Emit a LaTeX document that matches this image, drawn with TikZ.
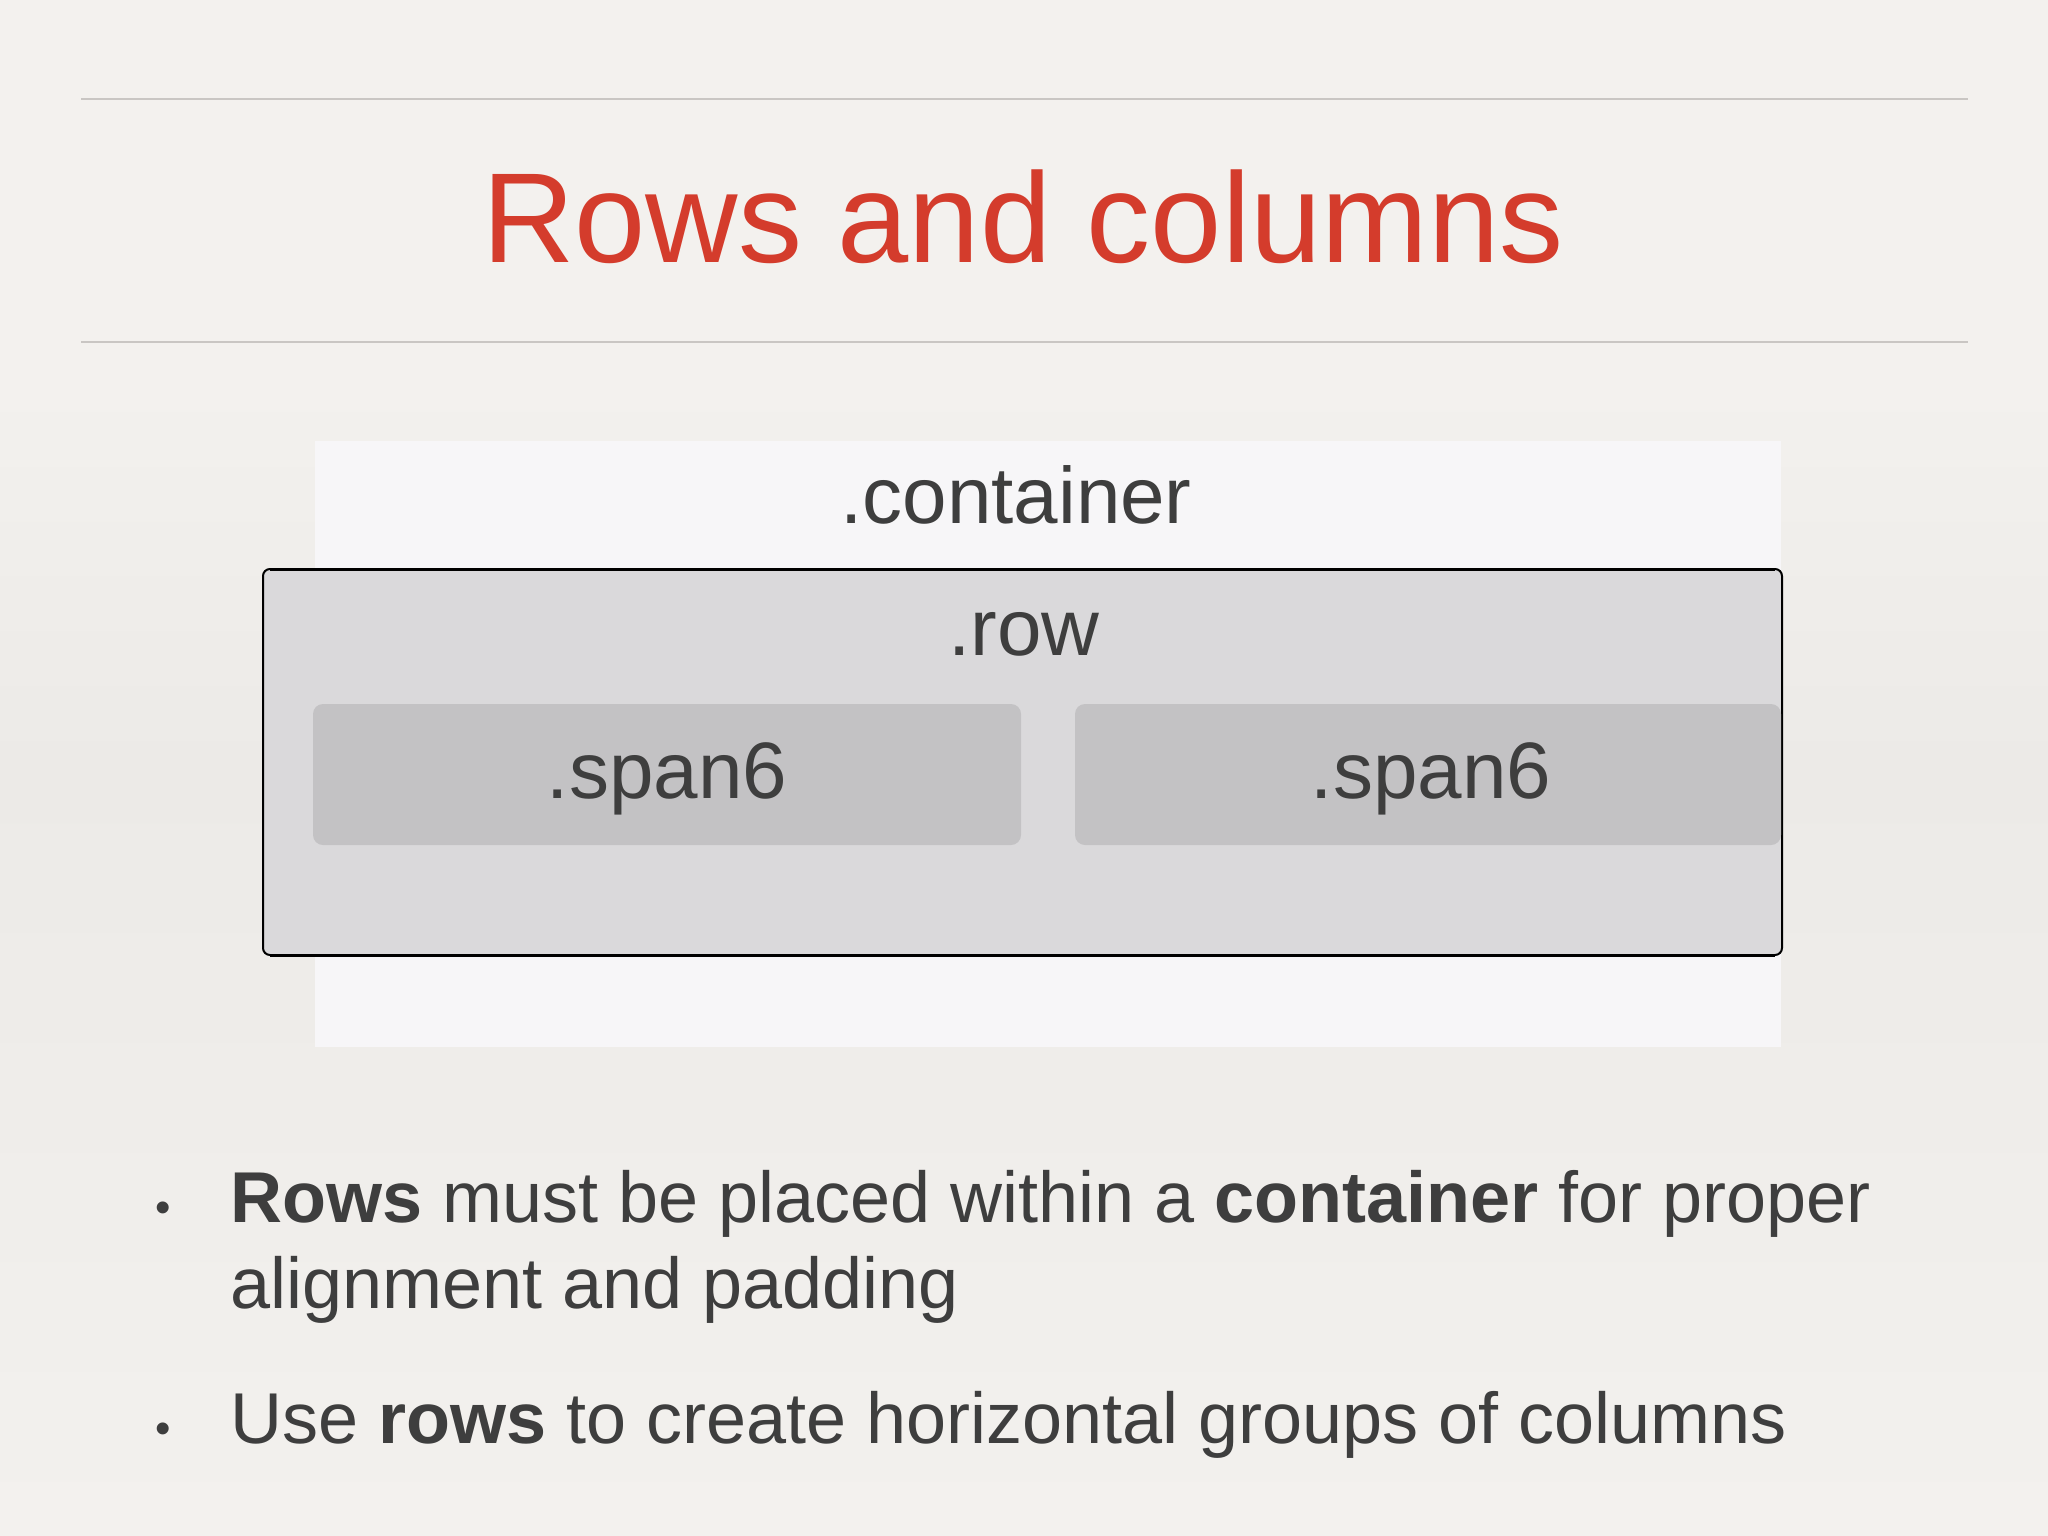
\documentclass[tikz,border=0pt]{standalone}
\usepackage{fontspec}
\setmainfont{Liberation Sans}
\definecolor{bgc}{HTML}{F3F1EE}
\definecolor{bgmid}{HTML}{ECEAE7}
\definecolor{rulec}{HTML}{C9C6C3}
\definecolor{titlec}{HTML}{D43C2C}
\definecolor{contc}{HTML}{F7F6F8}
\definecolor{rowc}{HTML}{DAD9DB}
\definecolor{spanc}{HTML}{C3C2C4}
\definecolor{txtc}{HTML}{3E3E3E}
\tikzset{
  lbl/.style={inner sep=0pt, anchor=base, text=txtc, font=\fontsize{80}{96}\selectfont},
  bodytxt/.style={inner sep=0pt, anchor=base west, text=txtc, font=\fontsize{72}{86}\selectfont},
  bul/.style={inner sep=0pt, anchor=base, text=txtc, font=\fontsize{44}{50}\selectfont},
  spanbox/.style={fill=spanc, rounded corners=10pt},
}
\begin{document}
\begin{tikzpicture}[x=1pt,y=-1pt]
\useasboundingbox (0,0) rectangle (2048,1536);
\shade[top color=bgc, bottom color=bgmid, middle color=bgc] (0,0) rectangle (2048,768);
\shade[top color=bgmid, bottom color=bgc] (0,768) rectangle (2048,1536);
\draw[rulec, line width=1.5pt] (81,99) -- (1968,99);
\draw[rulec, line width=1.5pt] (81,342) -- (1968,342);
\node[inner sep=0pt, anchor=base, text=titlec, font=\fontsize{128}{150}\selectfont] (title) at (1023,262) {Rows and columns};
% container
\fill[contc] (315,441) rectangle (1781,1047);
\node[lbl] (cont) at (1016,523) {.container};
% row
\draw[fill=rowc, draw=black, line width=2pt, rounded corners=7pt] (263,569) rectangle (1782,955);
\draw[black, line width=3pt] (270,569) -- (1775,569);
\draw[black, line width=3pt] (270,955) -- (1775,955);
\node[lbl] (row) at (1024,655) {.row};
% spans
\fill[spanbox] (313,704) rectangle (1021,845);
\fill[spanbox] (1075,704) rectangle (1781,845);
\node[lbl] (s1) at (667,798) {.span6};
\node[lbl] (s2) at (1431,798) {.span6};
% bullets
\node[bul] (b1) at (163,1222) {•};
\node[bodytxt] (t1a) at (230,1222) {\textbf{Rows} must be placed within a \textbf{container} for proper};
\node[bodytxt] (t1b) at (230,1308) {alignment and padding};
\node[bul] (b2) at (163,1443) {•};
\node[bodytxt] (t2) at (230,1443) {Use \textbf{rows} to create horizontal groups of columns};
\end{tikzpicture}
\end{document}
